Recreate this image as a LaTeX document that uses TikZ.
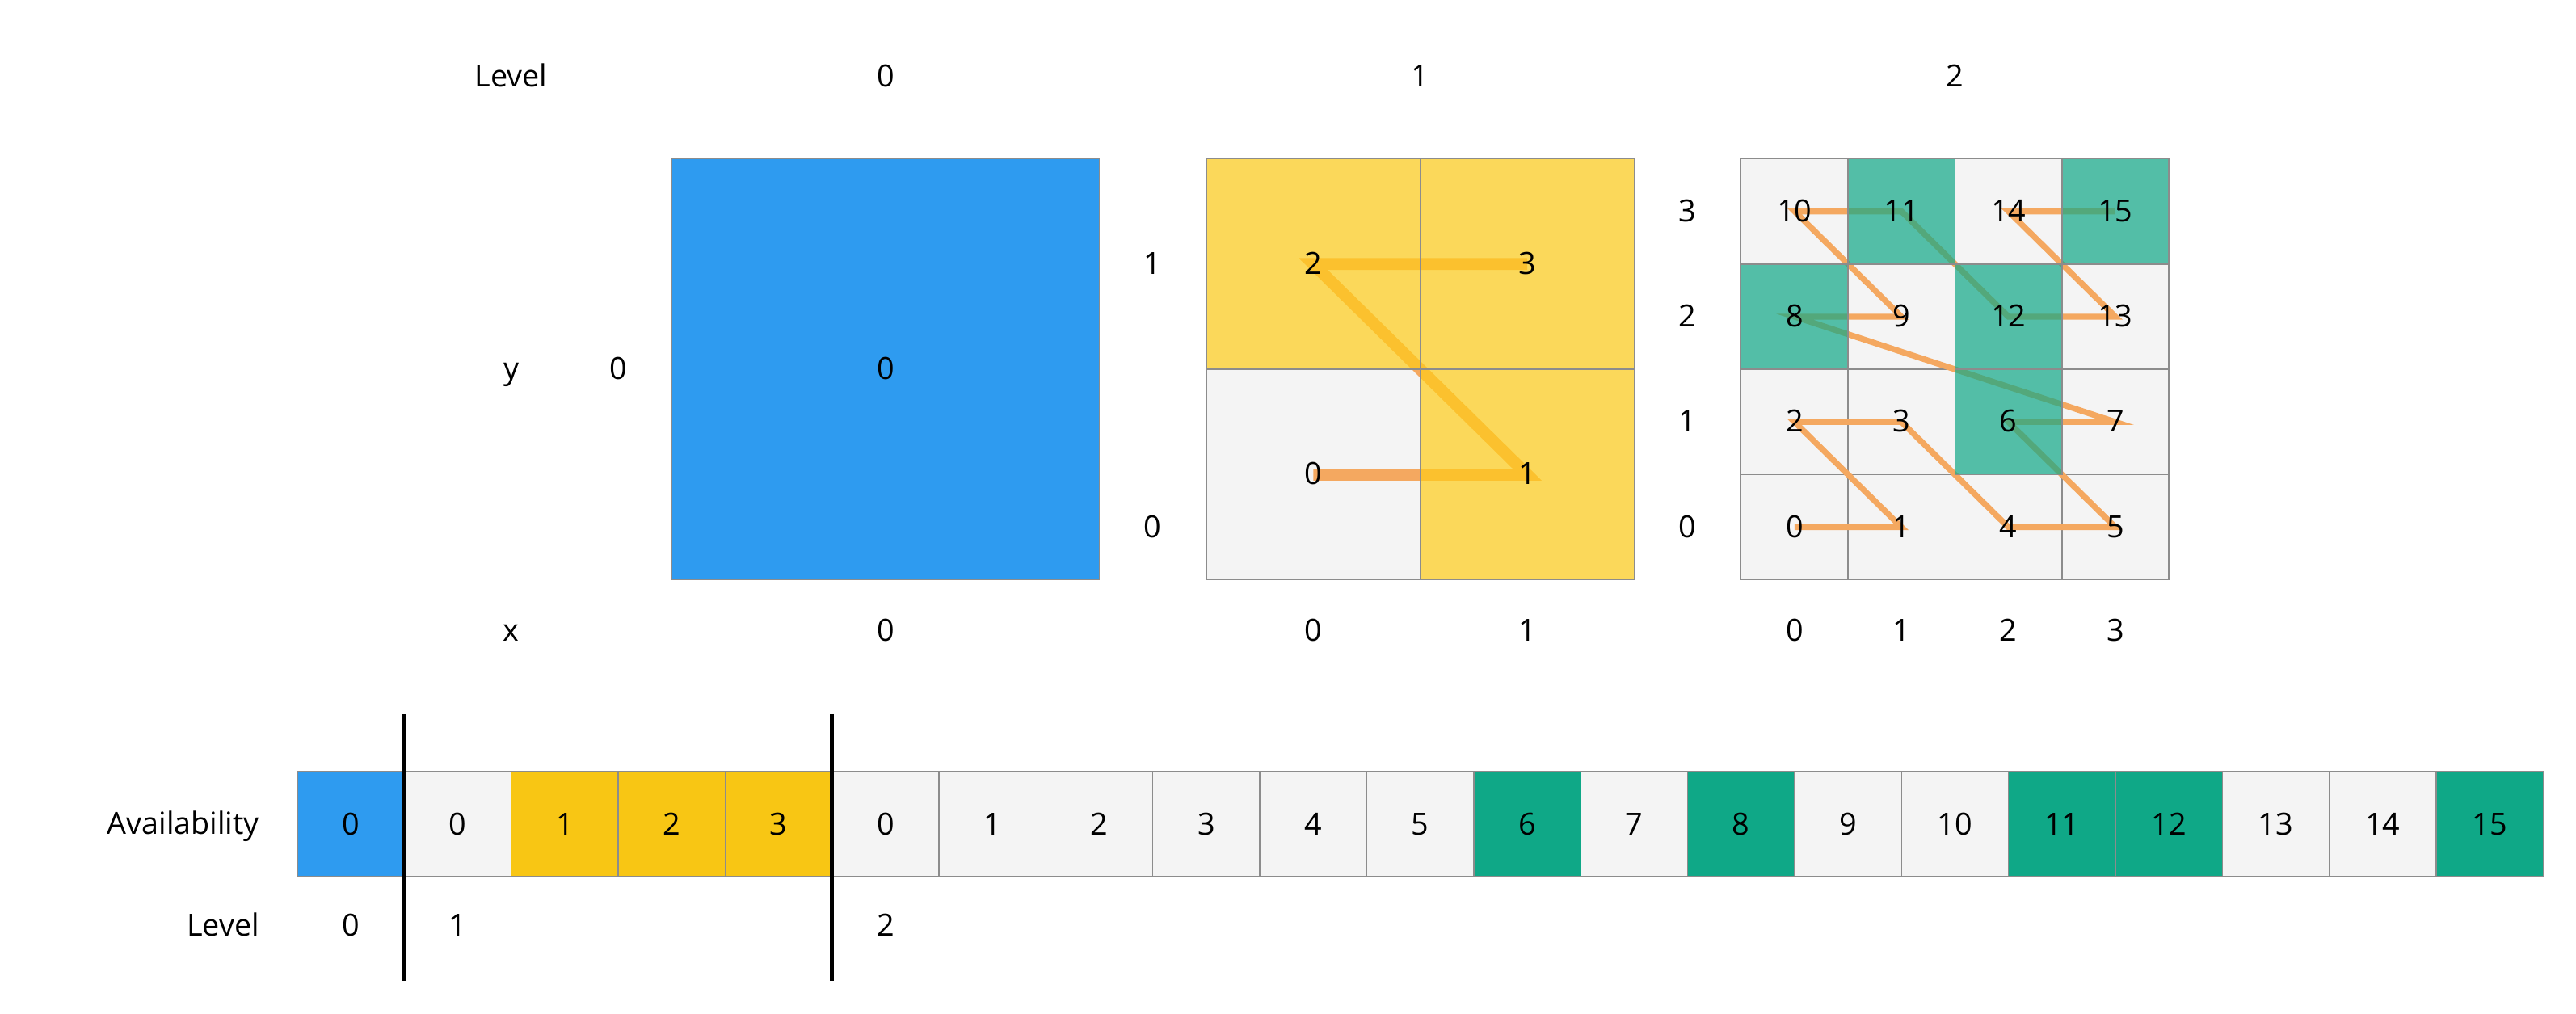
\documentclass[tikz,border=0pt]{standalone}
\usepackage{fontspec}
\setmainfont{Open Sans}
\definecolor{lvlblue}{HTML}{2E9BF0}
\definecolor{lvlyellow}{HTML}{F8C614}
\definecolor{gridyellow}{HTML}{FECD19}
\definecolor{lvlteal}{HTML}{0FA887}
\definecolor{cellgray}{HTML}{F4F4F4}
\definecolor{curveorange}{HTML}{F4A860}
\begin{document}
\begin{tikzpicture}[
  x=1.3235cm, y=1.303cm,
  font=\fontsize{10.75}{13}\selectfont,
  cell/.style={rectangle, draw=black!45, line width=0.4pt, fill=cellgray, inner sep=0pt,
    minimum width=#1*1.3235cm, minimum height=#1*1.303cm},
  cell/.default=1,
  tint/.style={fill opacity=0.7},
  lbl/.style={inner sep=0pt, text height=0.714em, text depth=0pt},
  zcurve/.style={draw=curveorange, line width=#1},
  split/.style={line width=1.4pt}
]
\useasboundingbox (-2.78,-1.796) rectangle (21.307,7.828);

\node[lbl] (hlevel) at (2,7.1) {Level};
\node[lbl] (h0) at (5.5,7.1) {0};
\node[lbl] (h1) at (10.5,7.1) {1};
\node[lbl] (h2) at (15.5,7.1) {2};
\node[lbl] (ylab) at (2,4.32) {y};
\node[lbl] (xlab) at (2,1.834) {x};

% level 0
\node[cell=4, fill=lvlblue] (b0) at (5.5,4.32) {};
\node[lbl] (bt0) at (b0) {0};
\node[lbl] (by0) at (3,4.32) {0};
\node[lbl] (bx0) at (5.5,1.834) {0};

% level 1
\foreach \n/\i/\j in {0/0/0,1/1/0,2/0/1,3/1/1}
  \node[cell=2] (p\n) at (9.5+2*\i,3.32+2*\j) {};
\draw[zcurve=1.47mm] (p0.center) -- (p1.center) -- (p2.center) -- (p3.center);
\foreach \n in {1,2,3}
  \node[cell=2, tint, fill=gridyellow] (pc\n) at (p\n) {};
\foreach \n in {0,...,3}
  \node[lbl] (pt\n) at (p\n) {\n};
\foreach \k in {0,1}
  \node[lbl] (px\k) at (9.5+2*\k,1.834) {\k};
\node[lbl] (py0) at (8,2.82) {0};
\node[lbl] (py1) at (8,5.32) {1};

% level 2
\foreach \n/\i/\j in {0/0/0,1/1/0,2/0/1,3/1/1,4/2/0,5/3/0,6/2/1,7/3/1,
                      8/0/2,9/1/2,10/0/3,11/1/3,12/2/2,13/3/2,14/2/3,15/3/3}
  \node[cell] (q\n) at (14+\i,2.82+\j) {};
\draw[zcurve=0.73mm] (q0.center) -- (q1.center) -- (q2.center) -- (q3.center)
  -- (q4.center) -- (q5.center) -- (q6.center) -- (q7.center)
  -- (q8.center) -- (q9.center) -- (q10.center) -- (q11.center)
  -- (q12.center) -- (q13.center) -- (q14.center) -- (q15.center);
\foreach \n in {6,8,11,12,15}
  \node[cell, tint, fill=lvlteal] (qc\n) at (q\n) {};
\foreach \n in {0,...,15}
  \node[lbl] (qt\n) at (q\n) {\n};
\foreach \k in {0,...,3} {
  \node[lbl] (qx\k) at (14+\k,1.834) {\k};
  \node[lbl] (qy\k) at (13,2.82+\k) {\k};
}

% availability
\node[lbl, anchor=east] (avail) at (-0.35,0) {Availability};
\foreach \k/\v/\c in {0/0/lvlblue,1/0/cellgray,2/1/lvlyellow,3/2/lvlyellow,4/3/lvlyellow}
  \node[cell, fill=\c] (a\k) at (\k+0.5,0) {\v};
\foreach \v/\c in {0/cellgray,1/cellgray,2/cellgray,3/cellgray,4/cellgray,5/cellgray,
                   6/lvlteal,7/cellgray,8/lvlteal,9/cellgray,10/cellgray,11/lvlteal,
                   12/lvlteal,13/cellgray,14/cellgray,15/lvlteal}
  \node[cell, fill=\c] (r\v) at (\v+5.5,0) {\v};

\node[lbl, anchor=east] (lvl) at (-0.35,-0.97) {Level};
\node[lbl] (l0) at (0.5,-0.97) {0};
\node[lbl] (l1) at (1.5,-0.97) {1};
\node[lbl] (l2) at (5.5,-0.97) {2};

\foreach \s in {1,5} {
  \coordinate (cut\s top) at (\s,1.044);
  \coordinate (cut\s bot) at (\s,-1.489);
  \draw[split] (cut\s top) -- (cut\s bot);
}
\end{tikzpicture}
\end{document}
